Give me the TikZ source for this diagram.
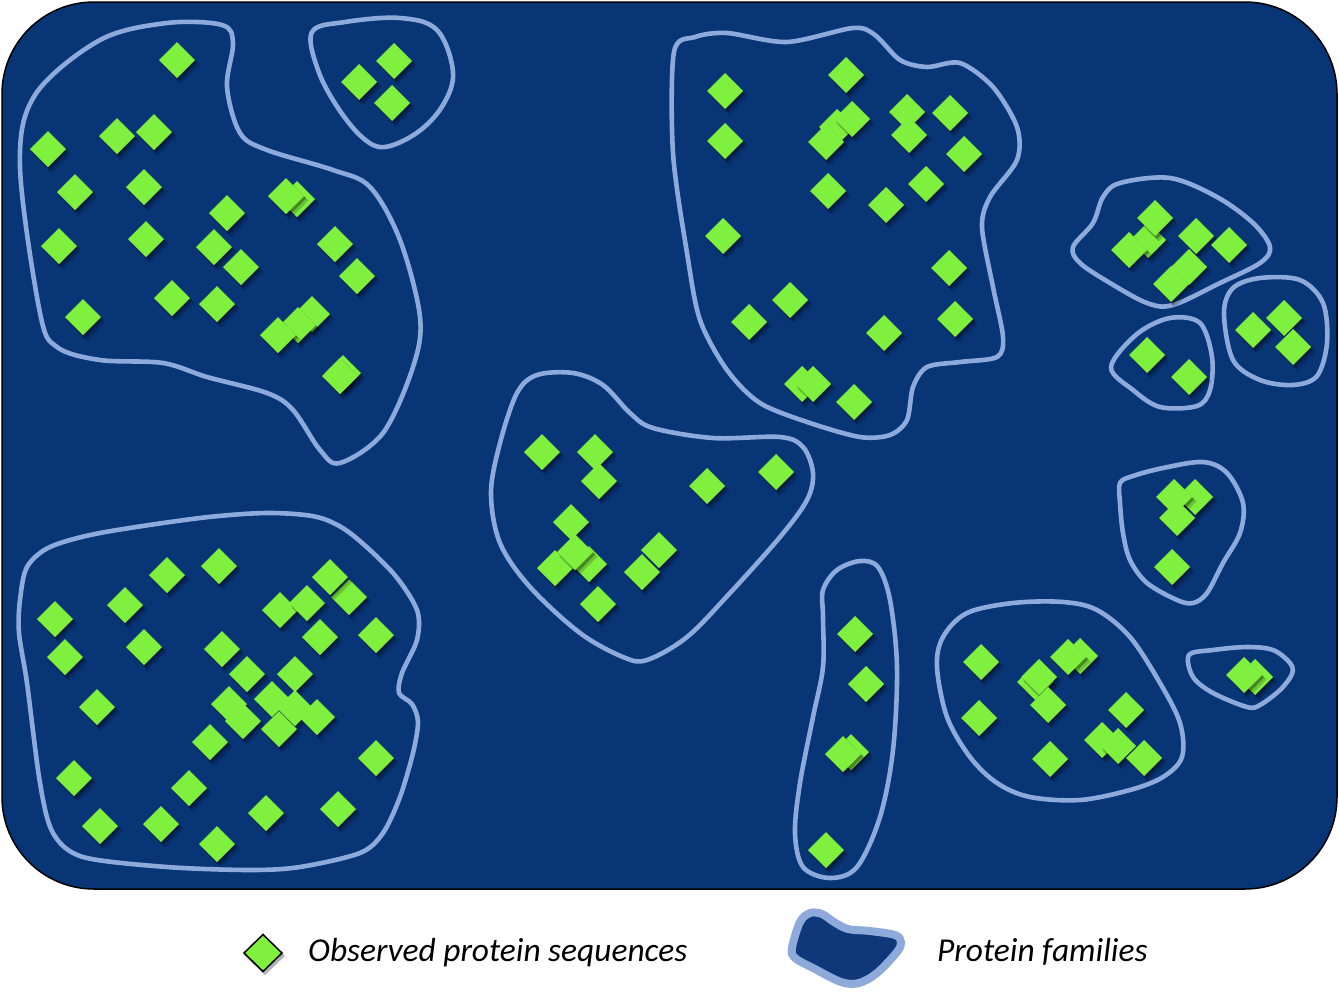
\documentclass[tikz,border=0pt]{standalone}
\usepackage{fontspec}
\setmainfont{Carlito}
\definecolor{bgblue}{RGB}{8,53,118}
\definecolor{famline}{RGB}{142,170,219}
\definecolor{seqgreen}{RGB}{128,240,62}
\definecolor{legblue}{RGB}{14,56,122}
\tikzset{
  family/.style={draw=famline, line width=4.6pt},
  seq/.pic={
    \fill[black,opacity=.18] (3.5,-14.5)--(22.5,4.5)--(3.5,23.5)--(-15.5,4.5)--cycle;
    \fill[black,opacity=.3] (2,-16)--(20,2.5)--(2,21)--(-16,2.5)--cycle;
    \fill[seqgreen] (0,-18)--(18,0)--(0,18)--(-18,0)--cycle;
  },
  legtext/.style={font=\fontsize{33.4}{40}\selectfont\itshape, anchor=base west, inner sep=0pt}
}
\begin{document}
\begin{tikzpicture}[x=1pt,y=-1pt]
\useasboundingbox (0,0) rectangle (1339,991);
\fill[white] (0,0) rectangle (1339,991);
% background panel
\draw[fill=bgblue, draw=black, line width=1.5pt, rounded corners=92pt] (2,2) rectangle (1337,889);

% family outlines
\draw[family] plot[smooth cycle, tension=0.55] coordinates {
 (100,40) (167,23) (222,25) (233,43) (227,87) (240,133) (267,150) (333,170) (370,187) (400,240) (420,317) (413,367) (383,433) (340,463) (320,450) (293,410) (267,393) (207,377) (163,363) (100,360) (57,347) (40,313) (20,167) (35,95)};
\draw[family] plot[smooth cycle, tension=0.6] coordinates {
 (312,32) (345,22) (400,18) (437,30) (453,72) (443,105) (418,132) (385,147) (363,138) (338,108) (318,70)};
\draw[family] plot[smooth cycle, tension=0.5] coordinates {
 (674,52) (695,37) (727,33) (787,42) (853,28) (875,35) (900,60) (927,67) (960,63) (993,87) (1017,127) (1017,160) (990,197) (982,227) (993,287) (1003,337) (997,357) (960,362) (927,367) (913,387) (907,420) (890,435) (860,437) (810,423) (760,403) (727,370) (700,320) (687,253) (673,153)};
\draw[family] plot[smooth cycle, tension=0.55] coordinates {
 (1073,247) (1093,223) (1103,197) (1120,183) (1170,178) (1217,197) (1253,223) (1270,247) (1260,263) (1220,283) (1173,305) (1147,303) (1110,283) (1080,263)};
\draw[family] plot[smooth cycle, tension=0.55] coordinates {
 (1111,367) (1137,334) (1170,318) (1200,323) (1212,357) (1210,390) (1197,406) (1160,407) (1133,390)};
\draw[family] plot[smooth cycle, tension=0.55] coordinates {
 (1224,313) (1233,288) (1260,278) (1300,280) (1323,303) (1327,343) (1317,376) (1293,385) (1260,380) (1233,360)};
\draw[family] plot[smooth cycle, tension=0.55] coordinates {
 (491,493) (500,443) (517,393) (537,375) (573,373) (603,385) (630,413) (653,428) (713,438) (780,437) (803,447) (813,473) (807,500) (780,537) (730,593) (687,637) (647,660) (623,657) (580,633) (530,587) (500,543)};
\draw[family] plot[smooth cycle, tension=0.5] coordinates {
 (20,600) (27,567) (50,547) (100,533) (200,518) (267,513) (317,517) (350,533) (393,573) (417,610) (417,640) (402,673) (399,693) (412,704) (418,722) (413,753) (400,797) (383,833) (360,853) (300,867) (250,870) (167,867) (83,857) (53,833) (40,783) (27,683) (19,633)};
\draw[family] plot[smooth cycle, tension=0.55] coordinates {
 (823,590) (837,570) (860,561) (878,567) (890,600) (897,667) (893,750) (880,817) (857,867) (830,878) (803,867) (795,833) (800,783) (813,717) (823,667) (823,617)};
\draw[family] plot[smooth cycle, tension=0.55] coordinates {
 (937,667) (943,637) (967,613) (1013,603) (1063,602) (1097,610) (1130,637) (1160,683) (1180,723) (1182,757) (1163,777) (1130,790) (1080,800) (1030,797) (997,783) (970,757) (947,717)};
\draw[family] plot[smooth cycle, tension=0.55] coordinates {
 (1120,483) (1133,476) (1163,468) (1203,462) (1227,473) (1243,503) (1240,533) (1223,563) (1207,593) (1193,603) (1177,600) (1147,583) (1130,560) (1123,533) (1120,503)};
\draw[family] plot[smooth cycle, tension=0.55] coordinates {
 (1189,655) (1213,650) (1247,647) (1273,650) (1290,663) (1292,674) (1280,690) (1260,705) (1247,707) (1213,693) (1193,677)};

% sequences
\foreach \p in {
 (177,60),(48,149),(117,136),(154,132),(75,192),(144,187),(297,199),(286,196),(227,213),(59,246),(146,239),(214,247),(241,267),(335,244),(357,276),(83,317),(172,298),(217,304),(312,314),(298,325),(278,335),(343,373),(340,376),
 (359,82),(394,61),(392,103),
 (725,91),(846,75),(725,141),(837,127),(852,119),(826,142),(907,112),(909,135),(950,113),(964,154),(828,191),(886,205),(926,184),(723,236),(949,268),(790,300),(749,322),(955,319),(884,333),(802,384),(813,384),(854,402),
 (1148,240),(1155,218),(1129,250),(1196,236),(1229,245),(1189,267),(1171,284),
 (1147,355),(1189,377),
 (1253,330),(1284,318),(1293,347),
 (542,452),(595,452),(599,481),(707,486),(776,472),(571,522),(589,564),(555,568),(575,552),(659,550),(642,572),(598,604),
 (167,575),(219,566),(55,619),(125,605),(349,597),(330,577),(280,610),(307,603),(65,657),(144,647),(222,649),(320,637),(376,635),(247,674),(295,674),(97,707),(229,704),(243,721),(272,699),(295,708),(317,717),(279,729),(210,742),(376,758),(74,778),(189,788),(100,826),(161,824),(217,844),(266,813),(338,809),
 (855,634),(866,684),(851,752),(843,754),(826,850),
 (981,662),(979,718),(1080,656),(1068,657),(1035,682),(1039,677),(1048,705),(1126,710),(1050,759),(1102,740),(1118,746),(1144,758),
 (1195,497),(1174,497),(1177,518),(1172,567),
 (1255,677),(1244,675)}
 \pic at \p {seq};

% legend
\fill[black,opacity=.3] (265,937)--(285,956)--(265,975)--(245,956)--cycle;
\draw[fill=seqgreen, draw=black, line width=1.5pt] (263,934.5)--(282,953)--(263,971.5)--(244,953)--cycle;
\node[legtext] (t1) at (308,961) {Observed protein sequences};
\draw[fill=legblue, draw=famline, line width=8pt] plot[smooth cycle, tension=0.55] coordinates {
 (792,948) (800,922) (810,913) (822,914) (834,922) (848,929) (870,931) (895,935) (901,942) (897,952) (877,973) (859,983) (841,982) (813,968) (795,958)};
\node[legtext] (t2) at (937,961) {Protein families};
\end{tikzpicture}
\end{document}
